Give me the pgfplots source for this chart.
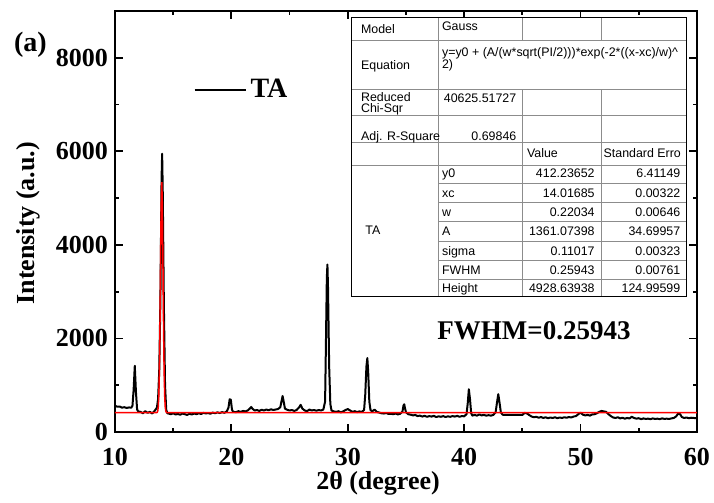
\documentclass[border=0pt]{standalone}
\usepackage{fontspec}
\setmainfont{Liberation Serif}
\newfontfamily\arial{Liberation Sans}
\usepackage{pgfplots}
\pgfplotsset{compat=1.18}
\begin{document}
\begin{tikzpicture}[x=1pt,y=1pt]
\begin{scope}[x=0.5pt,y=-0.5pt,shift={(-57.5pt,216pt)}]
\useasboundingbox (0,0) rectangle (714,503);
\end{scope}
\begin{axis}[
  at={(0pt,0pt)}, anchor=south west,
  width=291pt, height=210.5pt, scale only axis,
  xmin=10, xmax=60, ymin=0, ymax=9000,
  xtick={10,20,...,60}, ytick={0,2000,4000,6000,8000},
  minor x tick num=1, minor y tick num=1,
  tick align=inside, major tick length=4pt, minor tick length=2pt,
  axis line style={line width=1.2pt},
  tick style={line width=0.9pt, black},
  scaled y ticks=false,
  /pgf/number format/assume math mode=true,
  /pgf/number format/1000 sep={},
  ticklabel style={font=\fontsize{13}{15}\selectfont\bfseries},
  xticklabel style={inner sep=1pt, yshift=-7pt},
  label style={font=\fontsize{13}{15}\selectfont\bfseries},
  xlabel={2θ (degree)}, ylabel={Intensity (a.u.)},
  xlabel style={at={(axis description cs:0.452,-0.121)}, anchor=center, inner sep=0.5pt},
  ylabel style={at={(axis description cs:-0.1495,0.496)}, anchor=center},
  legend style={draw=none, fill=none, at={(axis description cs:0.1343,0.812)}, anchor=west,
    font=\fontsize{14}{16}\selectfont\bfseries, inner sep=0pt},
  legend image code/.code={\draw[#1] (0pt,0pt) -- (25.5pt,0pt);},
]
\addplot[black, line width=1pt, line join=round] coordinates {
(10.0,560) (10.2,540) (10.4,545) (10.6,520) (10.8,530) (11.0,515) (11.2,525) (11.4,520)
(11.5,560) (11.6,900) (11.7,1415) (11.8,850) (11.9,480) (12.0,440)
(12.2,430) (12.4,400) (12.6,445) (12.8,410) (13.0,430) (13.2,395) (13.4,450) (13.6,520)
(13.7,700) (13.8,1300) (13.9,2800) (14.0,5400) (14.05,5950) (14.1,5200) (14.2,2700) (14.3,1000) (14.4,480) (14.5,400)
(14.6,395) (14.8,380) (15.0,400) (15.2,375) (15.4,385) (15.6,370) (15.8,395) (16.0,380) (16.2,365) (16.4,390)
(16.6,375) (16.8,395) (17.0,380) (17.2,400) (17.4,385) (17.6,410) (17.8,395) (18.0,405) (18.2,390) (18.4,415)
(18.6,400) (18.8,420) (19.0,405) (19.2,425) (19.4,410) (19.6,440)
(19.75,520) (19.85,700) (19.95,690) (20.05,480) (20.15,430)
(20.4,425) (20.6,445) (20.8,430) (21.0,450) (21.2,440) (21.4,460) (21.6,505) (21.7,535) (21.8,500) (22.0,460)
(22.2,470) (22.4,450) (22.6,475) (22.8,460) (23.0,480) (23.2,465) (23.4,485) (23.6,470) (23.8,480) (24.0,490) (24.2,530)
(24.3,650) (24.4,770) (24.5,640) (24.6,500) (24.8,475)
(25.0,460) (25.2,470) (25.4,450) (25.6,470) (25.8,520) (25.95,580) (26.1,500) (26.3,460) (26.5,445) (26.7,480)
(26.9,460) (27.1,470) (27.3,455) (27.5,470) (27.7,460) (27.9,480) (28.05,650)
(28.1,1500) (28.2,3300) (28.25,3580) (28.3,3100) (28.4,1400) (28.5,600) (28.6,460)
(28.8,440) (29.0,430) (29.2,445) (29.4,420) (29.6,440) (29.8,470) (30.0,490) (30.2,460) (30.4,430) (30.6,445)
(30.8,425) (31.0,440) (31.2,430) (31.4,470)
(31.5,800) (31.6,1400) (31.68,1580) (31.75,1300) (31.85,650) (31.95,470)
(32.1,440) (32.3,480) (32.5,430) (32.7,415) (32.9,400) (33.1,395) (33.3,405) (33.5,385) (33.7,390) (33.9,380)
(34.1,395) (34.3,375) (34.5,390) (34.7,440)
(34.78,560) (34.85,593) (34.92,500) (35.0,420) (35.2,380)
(35.4,370) (35.6,355) (35.8,365) (36.0,340) (36.2,350) (36.4,330) (36.6,345) (36.8,325) (37.0,340) (37.2,330)
(37.4,345) (37.6,320) (37.8,335) (38.0,325) (38.2,340) (38.4,320) (38.6,335) (38.8,325) (39.0,340) (39.2,330)
(39.4,345) (39.6,325) (39.8,340) (40.0,335) (40.2,380)
(40.3,600) (40.4,915) (40.5,700) (40.6,400) (40.7,350)
(40.9,365) (41.1,350) (41.3,375) (41.5,355) (41.7,365) (41.9,350) (42.1,360) (42.3,350) (42.5,365) (42.7,420)
(42.83,650) (42.93,808) (43.03,640) (43.15,420) (43.3,370)
(43.4,365) (45.0,365) (45.2,410) (45.4,395) (45.6,360)
(45.8,330) (46.0,315) (46.2,325) (46.4,305) (46.6,320) (46.8,300) (47.0,315) (47.2,295) (47.4,310) (47.6,300)
(47.8,315) (48.0,295) (48.2,310) (48.4,300) (48.6,315) (48.8,305) (49.0,320) (49.2,310) (49.4,330) (49.6,340)
(49.8,380) (50.0,415) (50.2,370)
(50.4,355) (50.6,365) (50.8,350) (51.0,375) (51.2,380) (51.4,400) (51.6,430) (51.8,450) (52.0,440) (52.2,430)
(52.4,380) (52.6,340)
(52.8,310) (53.0,300) (53.2,315) (53.4,290) (53.6,305) (53.8,285) (54.0,300) (54.2,290) (54.4,325) (54.6,300)
(54.8,285) (55.0,295) (55.2,275) (55.4,290) (55.6,280) (55.8,285) (56.0,275) (56.2,290) (56.4,280) (56.6,285)
(56.8,275) (57.0,290) (57.2,280) (57.4,285) (57.6,278) (57.8,290) (58.0,300) (58.2,330) (58.4,400) (58.55,380)
(58.7,320) (58.9,300) (59.1,310) (59.3,295) (59.5,305) (59.7,300) (60.0,295)
};
\addlegendentry{TA}
\addplot[red, line width=0.75pt, forget plot] coordinates {
(10.0,412) (13.517,412) (13.617,419) (13.667,444) (13.717,533) (13.767,788) (13.817,1359) (13.867,2363)
(13.917,3675) (13.967,4857) (14.017,5341) (14.067,4857) (14.117,3675) (14.167,2363) (14.217,1359)
(14.267,788) (14.317,533) (14.367,444) (14.417,419) (14.517,412) (60.0,412)
};
\end{axis}
\begin{scope}[x=0.5pt,y=-0.5pt,shift={(-57.5pt,216pt)}]
\node[font=\fontsize{14}{16}\selectfont\bfseries, anchor=center] at (30.5,45) {(a)};
\node[font=\fontsize{13.5}{16}\selectfont\bfseries, anchor=center] at (534,330.5) {FWHM=0.25943};
% table
\fill[white] (351.7,17.3) rectangle (686.7,296.7);
\begin{scope}[draw=black!45, line width=0.4pt]
\foreach \yy in {40.7,89.3,115.7,142.7,165} \draw (351.7,\yy) -- (686.7,\yy);
\foreach \yy in {183.3,202.7,221.7,241,260,279.3} \draw (438.3,\yy) -- (686.7,\yy);
\draw (438.3,17.3) -- (438.3,296.7);
\foreach \xx in {522.7,601} {\draw (\xx,17.3) -- (\xx,40.7); \draw (\xx,89.3) -- (\xx,296.7);}
\end{scope}
\draw[black, line width=0.6pt] (351.7,17.3) rectangle (686.7,296.7);
\begin{scope}[every node/.style={font=\arial\fontsize{6.2}{7}\selectfont, inner sep=0pt}]
\node[anchor=base west] at (360.7,33.7) {Model};
\node[anchor=base west] at (441.7,31) {Gauss};
\node[anchor=base west] at (441.7,57) {y=y0 + (A/(w*sqrt(PI/2)))*exp(-2*((x-xc)/w)\^{}};
\node[anchor=base west] at (441.7,68.4) {2)};
\node[anchor=base west] at (360.7,69.4) {Equation};
\node[anchor=base west] at (360.7,102) {Reduced};
\node[anchor=base west] at (360.7,113) {Chi-Sqr};
\node[anchor=base east] at (516.7,103) {40625.51727};
\node[anchor=base west] at (360.7,140.4) {Adj. R-Square};
\node[anchor=base east] at (516.7,140.4) {0.69846};
\node[anchor=base west] at (526.7,158) {Value};
\node[anchor=base west] at (603.3,158) {Standard Erro};
\node[anchor=base west] at (365,234.4) {TA};
\foreach \yc/\na/\va/\er in {173.3/y0/412.23652/6.41149, 192.7/xc/14.01685/0.00322, 212/w/0.22034/0.00646,
   231/A/1361.07398/34.69957, 250.7/sigma/0.11017/0.00323, 270/FWHM/0.25943/0.00761, 288.3/Height/4928.63938/124.99599} {
  \node[anchor=base west] at (441.7,\yc+4.4) {\na};
  \node[anchor=base east] at (595,\yc+4.4) {\va};
  \node[anchor=base east] at (680.7,\yc+4.4) {\er};
}
\end{scope}
\end{scope}
\end{tikzpicture}
\end{document}
